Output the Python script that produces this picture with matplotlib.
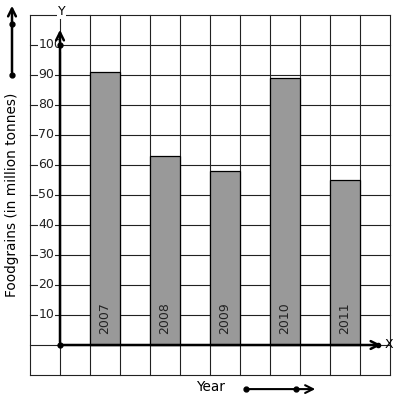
import matplotlib.pyplot as plt
from matplotlib.patches import FancyArrowPatch

# data
years = ['2007', '2008', '2009', '2010', '2011']
foodgrains = [91, 63, 58, 89, 55]
bar_pos = [1.5, 3.5, 5.5, 7.5, 9.5]
yticks = [10, 20, 30, 40, 50, 60, 70, 80, 90, 100]

fig = plt.figure(figsize=(3.97, 4.01), dpi=100)
ax = fig.add_axes([0, 0, 1, 1])
# one grid cell = 1 unit in x, 10 units in y; origin at pixel (60, 345)
ax.set_xlim(-2, 337 / 30)
ax.set_ylim(-56 / 3, 115)
ax.set_axis_off()

# grid
for gx in range(-1, 12):
    ax.plot([gx, gx], [-10, 110], color='#222222', lw=0.8, zorder=1)
for gy in range(-10, 111, 10):
    ax.plot([-1, 11], [gy, gy], color='#222222', lw=0.8, zorder=1)

# bars
ax.bar(bar_pos, foodgrains, width=1, color='#999999', edgecolor='black',
       linewidth=0.9, zorder=2)
for x, yr in zip(bar_pos, years):
    ax.text(x, 3.5, yr, rotation=90, ha='center', va='bottom', fontsize=9,
            color='#222222', zorder=3)

# axes with arrows
ax.add_patch(FancyArrowPatch((0, 0), (0, 106), arrowstyle='->', mutation_scale=14,
                             lw=1.8, color='black', zorder=4))
ax.add_patch(FancyArrowPatch((0, 0), (10.8, 0), arrowstyle='->', mutation_scale=14,
                             lw=1.8, color='black', zorder=4))
ax.plot([0, 0], [0, 100], 'o', color='black', ms=3.5, zorder=5)
ax.plot([10.6], [0], 'o', color='black', ms=3, zorder=5)
ax.text(0.05, 111, 'Y', ha='center', va='center', fontsize=9,
        bbox=dict(facecolor='white', edgecolor='none', pad=0.5), zorder=5)
ax.text(10.95, 0, 'X', ha='center', va='center', fontsize=9, zorder=5)

# tick labels
for t in yticks:
    ax.text(-0.72, t, str(t), ha='left', va='center', fontsize=9, color='#222222',
            bbox=dict(facecolor='white', edgecolor='none', pad=0.3), zorder=3)

# y label and arrow
ax.text(-1.6, 50, 'Foodgrains (in million tonnes)', rotation=90, ha='center',
        va='center', fontsize=9.8)
ax.add_patch(FancyArrowPatch((-1.6, 90), (-1.6, 114), arrowstyle='->', mutation_scale=14,
                             lw=1.8, color='black'))
ax.plot([-1.6, -1.6], [90, 107], 'o', color='black', ms=3.5)

# x label and arrow
ax.text(5, -14, 'Year', ha='center', va='center', fontsize=9.8)
ax.add_patch(FancyArrowPatch((6.2, -14.7), (8.6, -14.7), arrowstyle='->', mutation_scale=14,
                             lw=1.5, color='black'))
ax.plot([6.2, 7.87], [-14.7, -14.7], 'o', color='black', ms=3.5)

plt.savefig('out.png', dpi=100)
